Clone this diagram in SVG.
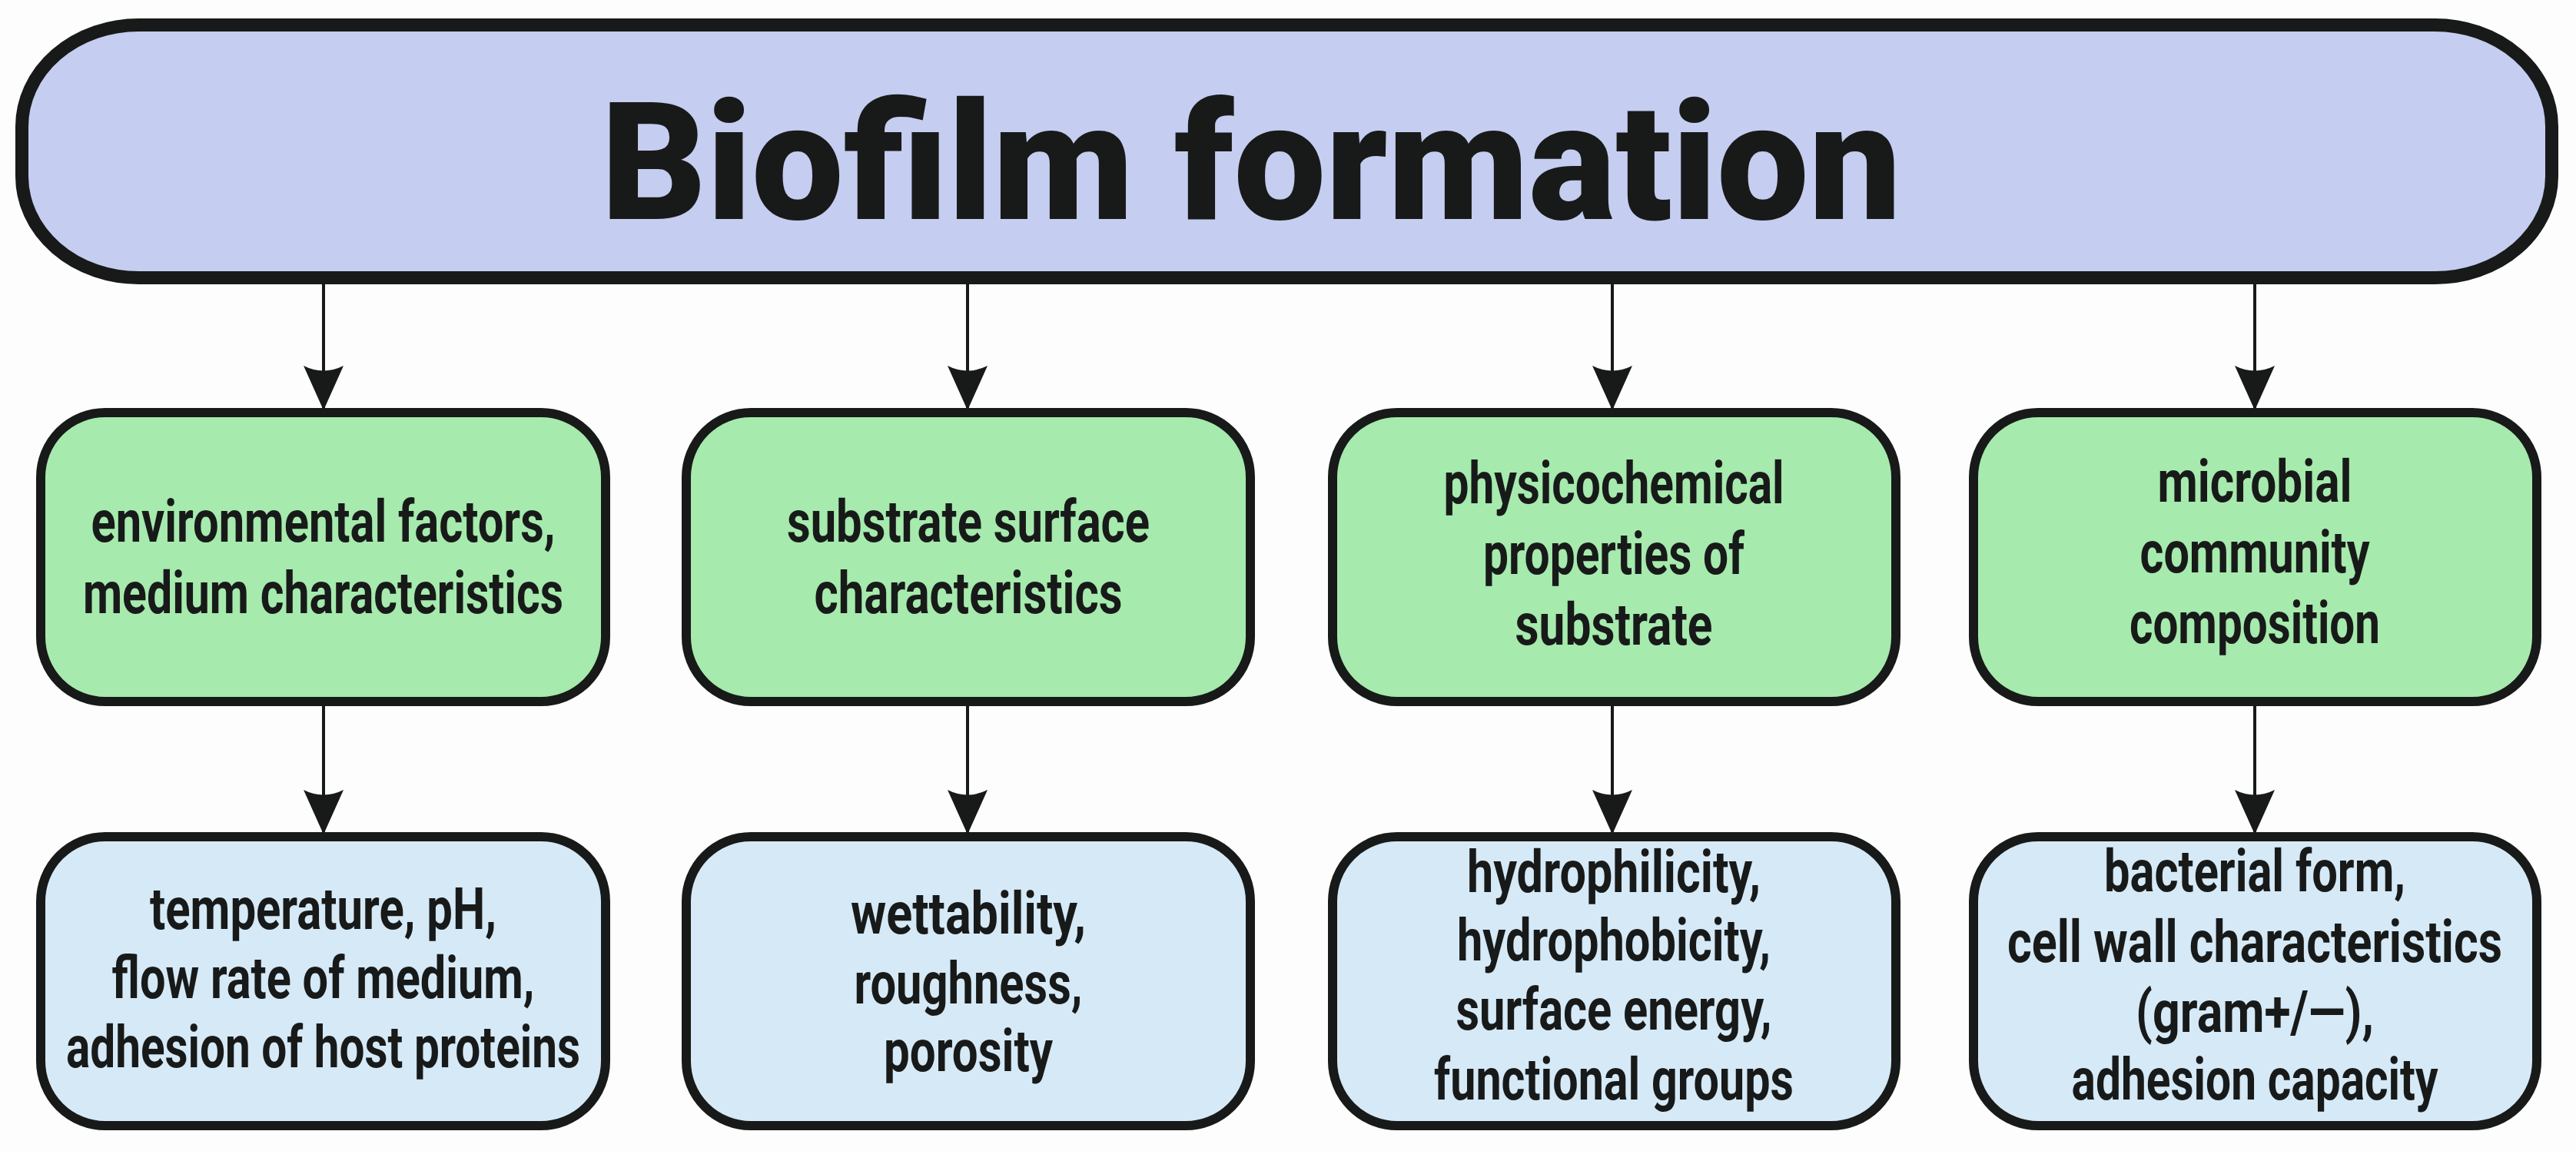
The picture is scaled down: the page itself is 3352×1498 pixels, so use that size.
<svg xmlns="http://www.w3.org/2000/svg" width="3352" height="1498" viewBox="0 0 3352 1498">
<defs>
<marker id="ah" markerUnits="userSpaceOnUse" markerWidth="58" markerHeight="52" viewBox="0 0 58 52" refX="58" refY="26" orient="auto">
<path d="M0,0 L58,26 L0,52 Q13,26 0,0 Z" fill="#181a19"/>
</marker>
<style>
.bg{fill:#fdfdfd}
.banner{fill:#c5cdf0;stroke:#181a19;stroke-width:17}
.g{fill:#a6eaae;stroke:#181a19;stroke-width:12}
.b{fill:#d5e9f7;stroke:#181a19;stroke-width:12}
.t{font-family:Roboto,"Liberation Sans",sans-serif;font-weight:700;font-size:76px;fill:#181a19;text-anchor:middle}
.title{font-family:Roboto,"Liberation Sans",sans-serif;font-weight:900;font-size:214px;fill:#181a19}
.c line{stroke:#181a19;stroke-width:4;marker-end:url(#ah)}
</style>
</defs>
<rect class="bg" x="0" y="0" width="3352" height="1498"/>

<g id="connectors" class="c">
<line x1="421" y1="369" x2="421" y2="534"/>
<line x1="1259" y1="369" x2="1259" y2="534"/>
<line x1="2098" y1="369" x2="2098" y2="534"/>
<line x1="2934" y1="369" x2="2934" y2="534"/>
<line x1="421" y1="918" x2="421" y2="1086"/>
<line x1="1259" y1="918" x2="1259" y2="1086"/>
<line x1="2098" y1="918" x2="2098" y2="1086"/>
<line x1="2934" y1="918" x2="2934" y2="1086"/>
</g>

<g id="biofilm-formation">
<rect class="banner" x="28.5" y="32.5" width="3292" height="329" rx="152" ry="132"/>
<text class="title" x="782" y="285" textLength="1692" lengthAdjust="spacingAndGlyphs">Biofilm formation</text>
</g>

<g id="environmental-factors">
<rect class="g" x="53" y="537" width="735" height="376" rx="84"/>
<text class="t" x="420.5" y="705" textLength="604" lengthAdjust="spacingAndGlyphs">environmental factors,</text>
<text class="t" x="420.5" y="798" textLength="625" lengthAdjust="spacingAndGlyphs">medium characteristics</text>
</g>

<g id="substrate-surface">
<rect class="g" x="893" y="537" width="734" height="376" rx="84"/>
<text class="t" x="1260" y="705" textLength="472" lengthAdjust="spacingAndGlyphs">substrate surface</text>
<text class="t" x="1260" y="798" textLength="401" lengthAdjust="spacingAndGlyphs">characteristics</text>
</g>

<g id="physicochemical-properties">
<rect class="g" x="1734" y="537" width="733" height="376" rx="84"/>
<text class="t" x="2100" y="655" textLength="443" lengthAdjust="spacingAndGlyphs">physicochemical</text>
<text class="t" x="2100" y="747" textLength="340" lengthAdjust="spacingAndGlyphs">properties of</text>
<text class="t" x="2100" y="839" textLength="257" lengthAdjust="spacingAndGlyphs">substrate</text>
</g>

<g id="microbial-community">
<rect class="g" x="2568" y="537" width="733" height="376" rx="84"/>
<text class="t" x="2934" y="653" textLength="253" lengthAdjust="spacingAndGlyphs">microbial</text>
<text class="t" x="2934" y="745" textLength="299" lengthAdjust="spacingAndGlyphs">community</text>
<text class="t" x="2934" y="837" textLength="326" lengthAdjust="spacingAndGlyphs">composition</text>
</g>

<g id="environmental-details">
<rect class="b" x="53" y="1089" width="735" height="376" rx="84"/>
<text class="t" x="420.5" y="1209" textLength="451" lengthAdjust="spacingAndGlyphs">temperature, pH,</text>
<text class="t" x="420.5" y="1299" textLength="550" lengthAdjust="spacingAndGlyphs">flow rate of medium,</text>
<text class="t" x="420.5" y="1389" textLength="669" lengthAdjust="spacingAndGlyphs">adhesion of host proteins</text>
</g>

<g id="surface-details">
<rect class="b" x="893" y="1089" width="734" height="376" rx="84"/>
<text class="t" x="1260" y="1215" textLength="306" lengthAdjust="spacingAndGlyphs">wettability,</text>
<text class="t" x="1260" y="1306" textLength="297" lengthAdjust="spacingAndGlyphs">roughness,</text>
<text class="t" x="1260" y="1394" textLength="220" lengthAdjust="spacingAndGlyphs">porosity</text>
</g>

<g id="physicochemical-details">
<rect class="b" x="1734" y="1089" width="733" height="376" rx="84"/>
<text class="t" x="2100" y="1161" textLength="382" lengthAdjust="spacingAndGlyphs">hydrophilicity,</text>
<text class="t" x="2100" y="1250" textLength="408" lengthAdjust="spacingAndGlyphs">hydrophobicity,</text>
<text class="t" x="2100" y="1340" textLength="411" lengthAdjust="spacingAndGlyphs">surface energy,</text>
<text class="t" x="2100" y="1431" textLength="468" lengthAdjust="spacingAndGlyphs">functional groups</text>
</g>

<g id="microbial-details">
<rect class="b" x="2568" y="1089" width="733" height="376" rx="84"/>
<text class="t" x="2934" y="1160" textLength="392" lengthAdjust="spacingAndGlyphs">bacterial form,</text>
<text class="t" x="2934" y="1252" textLength="644" lengthAdjust="spacingAndGlyphs">cell wall characteristics</text>
<text class="t" x="2934" y="1343" textLength="310" lengthAdjust="spacingAndGlyphs">(gram+/—),</text>
<text class="t" x="2934" y="1431" textLength="477" lengthAdjust="spacingAndGlyphs">adhesion capacity</text>
</g>
</svg>
